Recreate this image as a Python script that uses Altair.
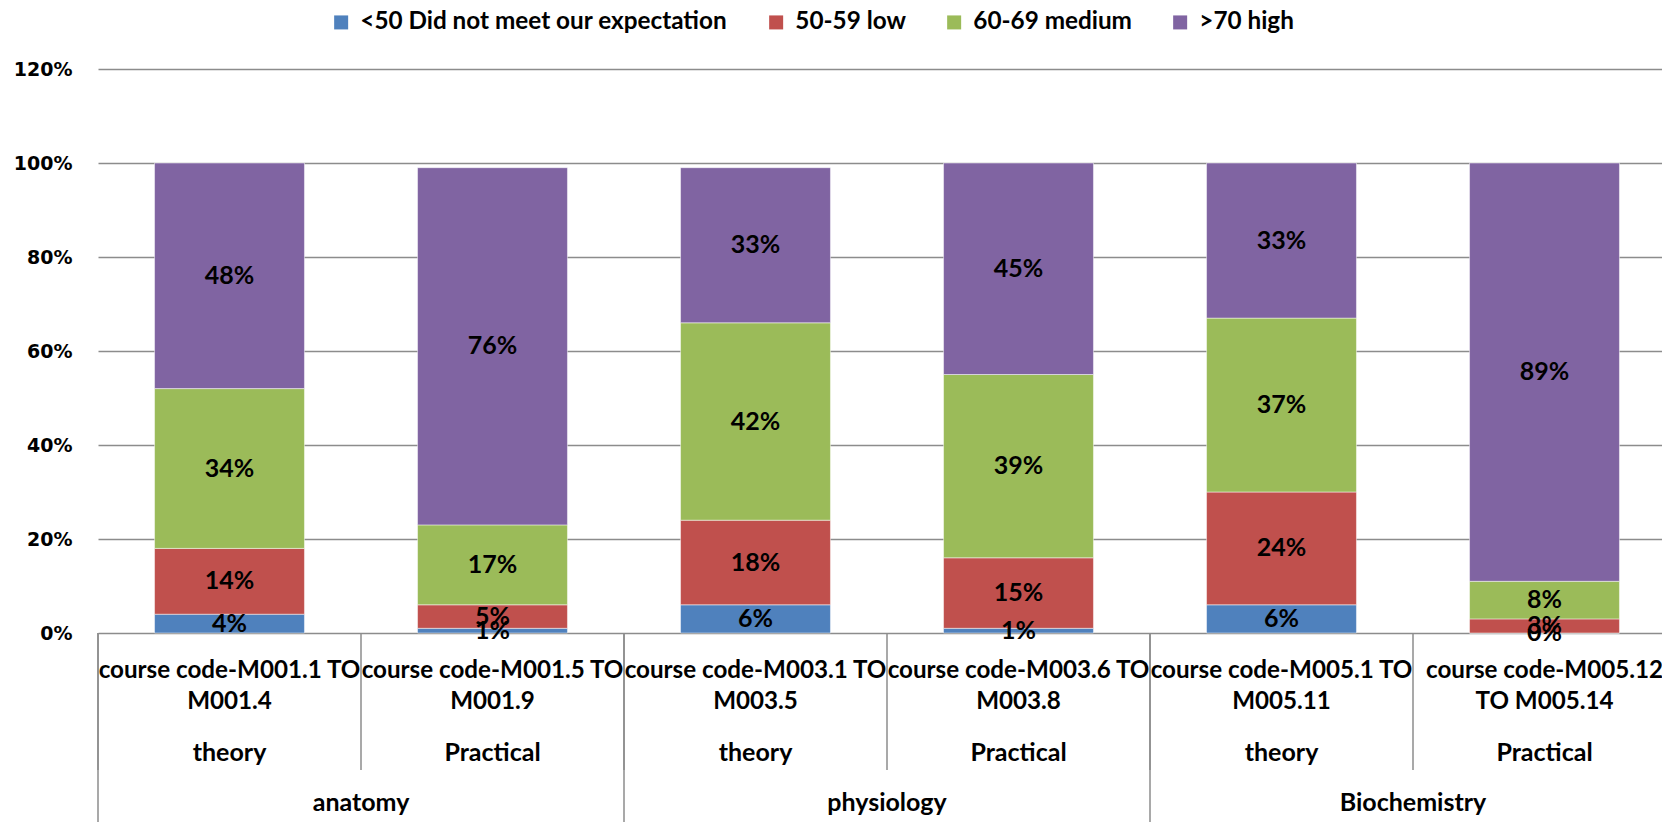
import altair as alt
import pandas as pd

# ---- data ----
course_codes = [
    "course code-M001.1 TO\nM001.4",
    "course code-M001.5 TO\nM001.9",
    "course code-M003.1 TO\nM003.5",
    "course code-M003.6 TO\nM003.8",
    "course code-M005.1 TO\nM005.11",
    "course code-M005.12\nTO M005.14",
]
course_types = ["theory", "Practical", "theory", "Practical", "theory", "Practical"]
subjects = ["anatomy", "anatomy", "physiology", "physiology", "Biochemistry", "Biochemistry"]

series_names = ["<50 Did not meet our expectation", "50-59 low", "60-69 medium", ">70 high"]
below_50 = [4, 1, 6, 1, 6, 0]
low_50_59 = [14, 5, 18, 15, 24, 3]
medium_60_69 = [34, 17, 42, 39, 37, 8]
high_70 = [48, 76, 33, 45, 33, 89]
series_colors = ["#4F81BD", "#C0504D", "#9BBB59", "#8064A2"]

# ---- tables ----
rows = []
for s_idx, (name, vals) in enumerate(zip(series_names, [below_50, low_50_59, medium_60_69, high_70])):
    for c_idx, code in enumerate(course_codes):
        rows.append({"cat": code, "series": name, "order": s_idx,
                     "value": vals[c_idx] / 100.0})
df = pd.DataFrame(rows)

cat_df = pd.DataFrame({"cat": course_codes, "ctype": course_types, "subject": subjects})
subject_order = list(dict.fromkeys(subjects))
group_first = []
for subj in subject_order:
    group_first.append({"cat": course_codes[subjects.index(subj)], "subject": subj})
group_df = pd.DataFrame(group_first)

LABEL_FONT = "Lato"
PLOT_W, PLOT_H = 1564, 564
X_RANGE = [0, 1578]

# scale for bars/centred labels, a padding-free one for category boundaries,
# and one over the subject groups for the outer labels
x_scale = alt.Scale(domain=course_codes, range=X_RANGE, paddingInner=0.43, paddingOuter=0.215)
x_edge = alt.Scale(domain=course_codes, range=X_RANGE, paddingInner=0, paddingOuter=0)
x_group = alt.Scale(domain=subject_order, range=X_RANGE, paddingInner=0, paddingOuter=0)
y_scale = alt.Scale(domain=[0, 1.2])

base = alt.Chart(df)

bars = base.mark_bar(stroke="white", strokeWidth=0.8, strokeOpacity=0.6).encode(
    x=alt.X("cat:N", scale=x_scale, axis=None, sort=course_codes),
    y=alt.Y("value:Q", stack="zero", scale=y_scale,
            axis=alt.Axis(format=".0%", values=[0, 0.2, 0.4, 0.6, 0.8, 1.0, 1.2],
                          title=None, domain=False, ticks=False,
                          gridColor="#8c8c8c", gridWidth=1.5,
                          labelFont="DejaVu Sans", labelFontWeight="bold",
                          labelFontSize=19, labelColor="#000000", labelPadding=26)),
    color=alt.Color("series:N", scale=alt.Scale(domain=series_names, range=series_colors),
                    legend=alt.Legend(title=None, orient="none", direction="horizontal",
                                      legendX=231, legendY=-59, symbolType="square",
                                      symbolSize=196, symbolStrokeWidth=0,
                                      labelFont=LABEL_FONT, labelFontWeight="bold",
                                      labelFontSize=24.3, labelColor="#000000",
                                      labelOffset=7, columnPadding=36, labelLimit=600)),
    order=alt.Order("order:Q"),
)

labels = base.transform_stack(
    stack="value", groupby=["cat"], as_=["y0", "y1"], sort=[alt.SortField("order")]
).transform_calculate(
    mid="(datum.y0 + datum.y1) / 2",
    lab="format(datum.value, '.0%')",
).mark_text(font=LABEL_FONT, fontWeight="bold", fontSize=25, color="black",
            baseline="middle", align="center").encode(
    x=alt.X("cat:N", scale=x_scale, axis=None, sort=course_codes),
    y=alt.Y("mid:Q", scale=y_scale),
    text="lab:N",
)

cats = alt.Chart(cat_df)
code_text = cats.mark_text(font=LABEL_FONT, fontWeight="bold", fontSize=24.2, color="black",
                           lineBreak="\n", lineHeight=31, baseline="middle",
                           align="center").encode(
    x=alt.X("cat:N", scale=x_scale, axis=None, sort=course_codes),
    y=alt.value(602),
    text="cat:N",
)
type_text = cats.mark_text(font=LABEL_FONT, fontWeight="bold", fontSize=25, color="black",
                           baseline="middle", align="center").encode(
    x=alt.X("cat:N", scale=x_scale, axis=None, sort=course_codes),
    y=alt.value(684),
    text="ctype:N",
)
inner_sep = cats.mark_rule(color="#8c8c8c", strokeWidth=1.5).encode(
    x=alt.X("cat:N", scale=x_edge, axis=None, sort=course_codes, bandPosition=0),
    y=alt.value(PLOT_H),
    y2=alt.value(701),
)

groups = alt.Chart(group_df)
group_text = groups.mark_text(font=LABEL_FONT, fontWeight="bold", fontSize=25, color="black",
                              baseline="middle", align="center").encode(
    x=alt.X("subject:N", scale=x_group, axis=None, sort=subject_order),
    y=alt.value(734),
    text="subject:N",
)
group_sep = groups.mark_rule(color="#8c8c8c", strokeWidth=1.5).encode(
    x=alt.X("cat:N", scale=x_edge, axis=None, sort=course_codes, bandPosition=0),
    y=alt.value(PLOT_H),
    y2=alt.value(760),
)

chart = alt.layer(
    bars, labels, inner_sep, group_sep, code_text, type_text, group_text
).resolve_scale(x="independent").properties(
    width=PLOT_W, height=PLOT_H,
    autosize=alt.AutoSizeParams(type="none"),
    padding={"left": 90, "top": 61, "right": 0, "bottom": 189},
).configure_view(stroke=None)

chart.save("out.html", embed_options={"renderer": "svg", "actions": False})
